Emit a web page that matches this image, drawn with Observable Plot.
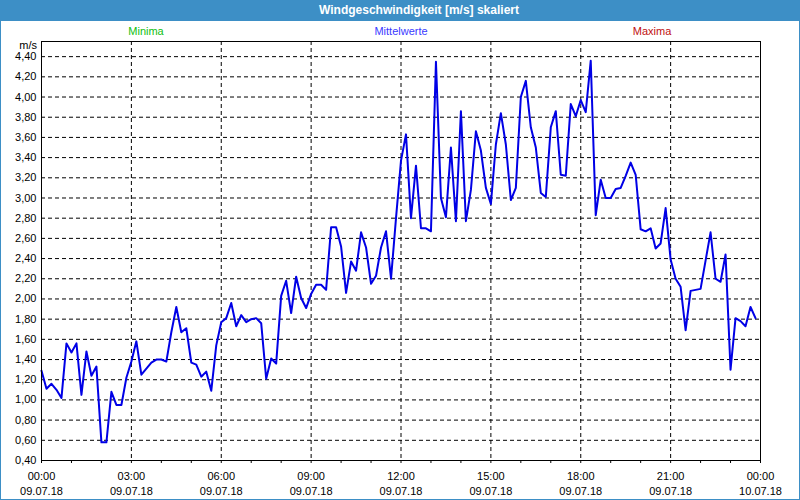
<!DOCTYPE html>
<html><head><meta charset="utf-8">
<script src="https://cdn.jsdelivr.net/npm/d3@7"></script>
<script src="https://cdn.jsdelivr.net/npm/@observablehq/plot@0.6"></script>
<style>
body{margin:0;background:#fff;}
#wrap{position:relative;width:800px;height:500px;overflow:hidden;background:#fff;}
#title{position:absolute;left:0;top:0;width:800px;height:21px;box-sizing:border-box;padding-left:38px;background:#3d8fc6;color:#fff;font:bold 12px "Liberation Sans",sans-serif;text-align:center;line-height:21px;}
#border{position:absolute;left:0;top:0;width:798px;height:498px;border:1px solid #3d8fc6;pointer-events:none;}
.leg{position:absolute;top:25px;font:11px "Liberation Sans",sans-serif;transform:translateX(-50%);white-space:nowrap;}
#unit{position:absolute;top:39px;right:763px;font:11px "Liberation Sans",sans-serif;color:#000;}
#chart{position:absolute;left:0;top:21px;}
</style></head>
<body>
<div id="wrap">
  <div id="title"></div>
  <div id="chart"></div>
  <div id="legend"></div>
  <div id="unit"></div>
  <div id="border"></div>
</div>
<script>
const titleText = "Windgeschwindigkeit [m/s] skaliert";
const unitText = "m/s";
const legendNames = ["Minima", "Mittelwerte", "Maxima"];
const legendColors = ["#10c010", "#3a3aff", "#c01010"];
const legendX = [146, 401, 652];

// 10-minute mean wind speed, 09.07.18 00:00 .. 23:50
const windValues = [
  1.29,1.11,1.16,1.10,1.02,1.56,
  1.47,1.56,1.05,1.48,1.24,1.33,
  0.58,0.58,1.08,0.95,0.95,1.22,
  1.38,1.58,1.25,1.31,1.37,1.40,
  1.40,1.38,1.67,1.92,1.67,1.71,
  1.37,1.35,1.23,1.28,1.09,1.54,
  1.77,1.81,1.96,1.73,1.84,1.77,
  1.80,1.81,1.76,1.21,1.41,1.36,
  2.03,2.18,1.86,2.22,2.01,1.91,
  2.05,2.14,2.14,2.09,2.71,2.71,
  2.52,2.06,2.37,2.28,2.66,2.51,
  2.15,2.23,2.51,2.67,2.20,2.80,
  3.37,3.63,2.80,3.32,2.70,2.70,
  2.67,4.35,3.00,2.81,3.50,2.77,
  3.86,2.77,3.08,3.66,3.47,3.10,
  2.94,3.53,3.84,3.53,2.98,3.10,
  4.00,4.16,3.70,3.50,3.05,3.01,
  3.70,3.86,3.23,3.22,3.93,3.81,
  3.97,3.85,4.36,2.83,3.18,3.00,
  3.00,3.09,3.10,3.22,3.35,3.23,
  2.69,2.67,2.70,2.50,2.55,2.90,
  2.39,2.20,2.12,1.69,2.08,2.09,
  2.10,2.38,2.66,2.20,2.17,2.44,
  1.30,1.81,1.78,1.73,1.92,1.81
];
const startTime = new Date(Date.UTC(2018, 6, 9, 0, 0));
const endTime = new Date(Date.UTC(2018, 6, 10, 0, 0));
const stepMinutes = 10;

const yTicks = [0.4,0.6,0.8,1.0,1.2,1.4,1.6,1.8,2.0,2.2,2.4,2.6,2.8,3.0,3.2,3.4,3.6,3.8,4.0,4.2,4.4];
const xMajorTicks = [0,3,6,9,12,15,18,21,24].map(h => new Date(Date.UTC(2018,6,9,h)));
const xMinorTicks = d3.range(0,25).map(h => new Date(Date.UTC(2018,6,9,h)));

const data = windValues.map((v,i) => ({time: new Date(startTime.getTime() + i*stepMinutes*60000), value: v}));

document.getElementById("title").textContent = titleText;
document.getElementById("unit").textContent = unitText;
const leg = document.getElementById("legend");
legendNames.forEach((n,i) => {
  const d = document.createElement("div");
  d.className = "leg"; d.textContent = n; d.style.color = legendColors[i]; d.style.left = legendX[i] + "px";
  leg.appendChild(d);
});

const fmtX = d3.utcFormat("%H:%M\n%d.%m.%y");
const chart = Plot.plot({
  width: 800, height: 479,
  marginTop: 20, marginBottom: 40, marginLeft: 41, marginRight: 40,
  style: {fontFamily: "'Liberation Sans', sans-serif", fontSize: "11px", color: "#000", background: "transparent"},
  x: {type: "utc", domain: [startTime, endTime]},
  y: {domain: [0.4, 4.55]},
  marks: [
    Plot.gridY(yTicks, {stroke: "#000", strokeOpacity: 1, strokeDasharray: "4,3"}),
    Plot.gridX(xMajorTicks, {stroke: "#000", strokeOpacity: 1, strokeDasharray: "4,3"}),
    Plot.line(data, {x: "time", y: "value", stroke: "#0000e6", strokeWidth: 2}),
    Plot.frame({stroke: "#000"}),
    Plot.axisY(yTicks, {tickSize: 0, tickPadding: 5, tickFormat: d => d.toFixed(2).replace(".", ","), label: null, fill: "#000"}),
    Plot.axisX(xMinorTicks, {tickSize: 3, text: null, label: null}),
    Plot.axisX(xMajorTicks, {tickSize: 0, tickPadding: 9, tickFormat: fmtX, lineHeight: 1.35, label: null, fill: "#000"})
  ]
});
document.getElementById("chart").appendChild(chart);
</script>
</body></html>
